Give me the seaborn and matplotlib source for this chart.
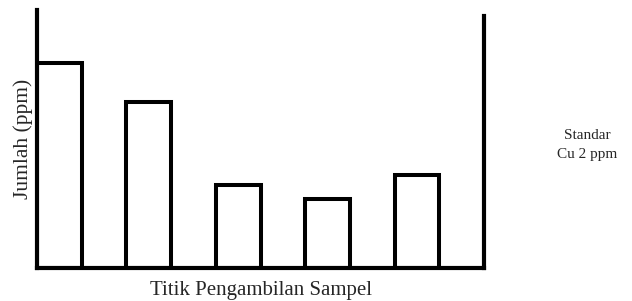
import matplotlib
matplotlib.use("Agg")
import matplotlib.pyplot as plt
import seaborn as sns
import pandas as pd

# sampling points and measured amounts (no y ticks in the original, relative heights only)
titik = ["1", "2", "3", "4", "5"]
jumlah = [205, 166, 83, 69, 93]
standar_label = "Standar\nCu 2 ppm"

sns.set_style("white")
plt.rcParams['font.family'] = ['Liberation Serif', 'DejaVu Serif']

df = pd.DataFrame({"titik": titik, "jumlah": jumlah})

fig = plt.figure(figsize=(6.32, 3.01), dpi=100)
ax = fig.add_axes([37 / 632, 1 - 268 / 301, (484 - 37) / 632, (268 - 10) / 301])

sns.barplot(data=df, x="titik", y="jumlah", color="white", edgecolor="black",
            linewidth=2.9, width=0.5, ax=ax, saturation=1)

ax.set_xlim(-0.25, 4.75)
ax.set_ylim(0, 258)
ax.set_xticks([])
ax.set_yticks([])

for side in ["left", "bottom", "right"]:
    ax.spines[side].set_linewidth(3.0)
    ax.spines[side].set_color("black")
ax.spines["top"].set_visible(False)
ax.spines["right"].set_bounds(0, 252)

ax.set_xlabel("Titik Pengambilan Sampel", fontsize=15, labelpad=9.5)
ax.set_ylabel("Jumlah (ppm)", fontsize=15.5, labelpad=3)

fig.text(587 / 632, 1 - 145 / 301, standar_label, ha="center", va="center",
         fontsize=11, linespacing=1.55)

fig.savefig("out.png", dpi=100)
